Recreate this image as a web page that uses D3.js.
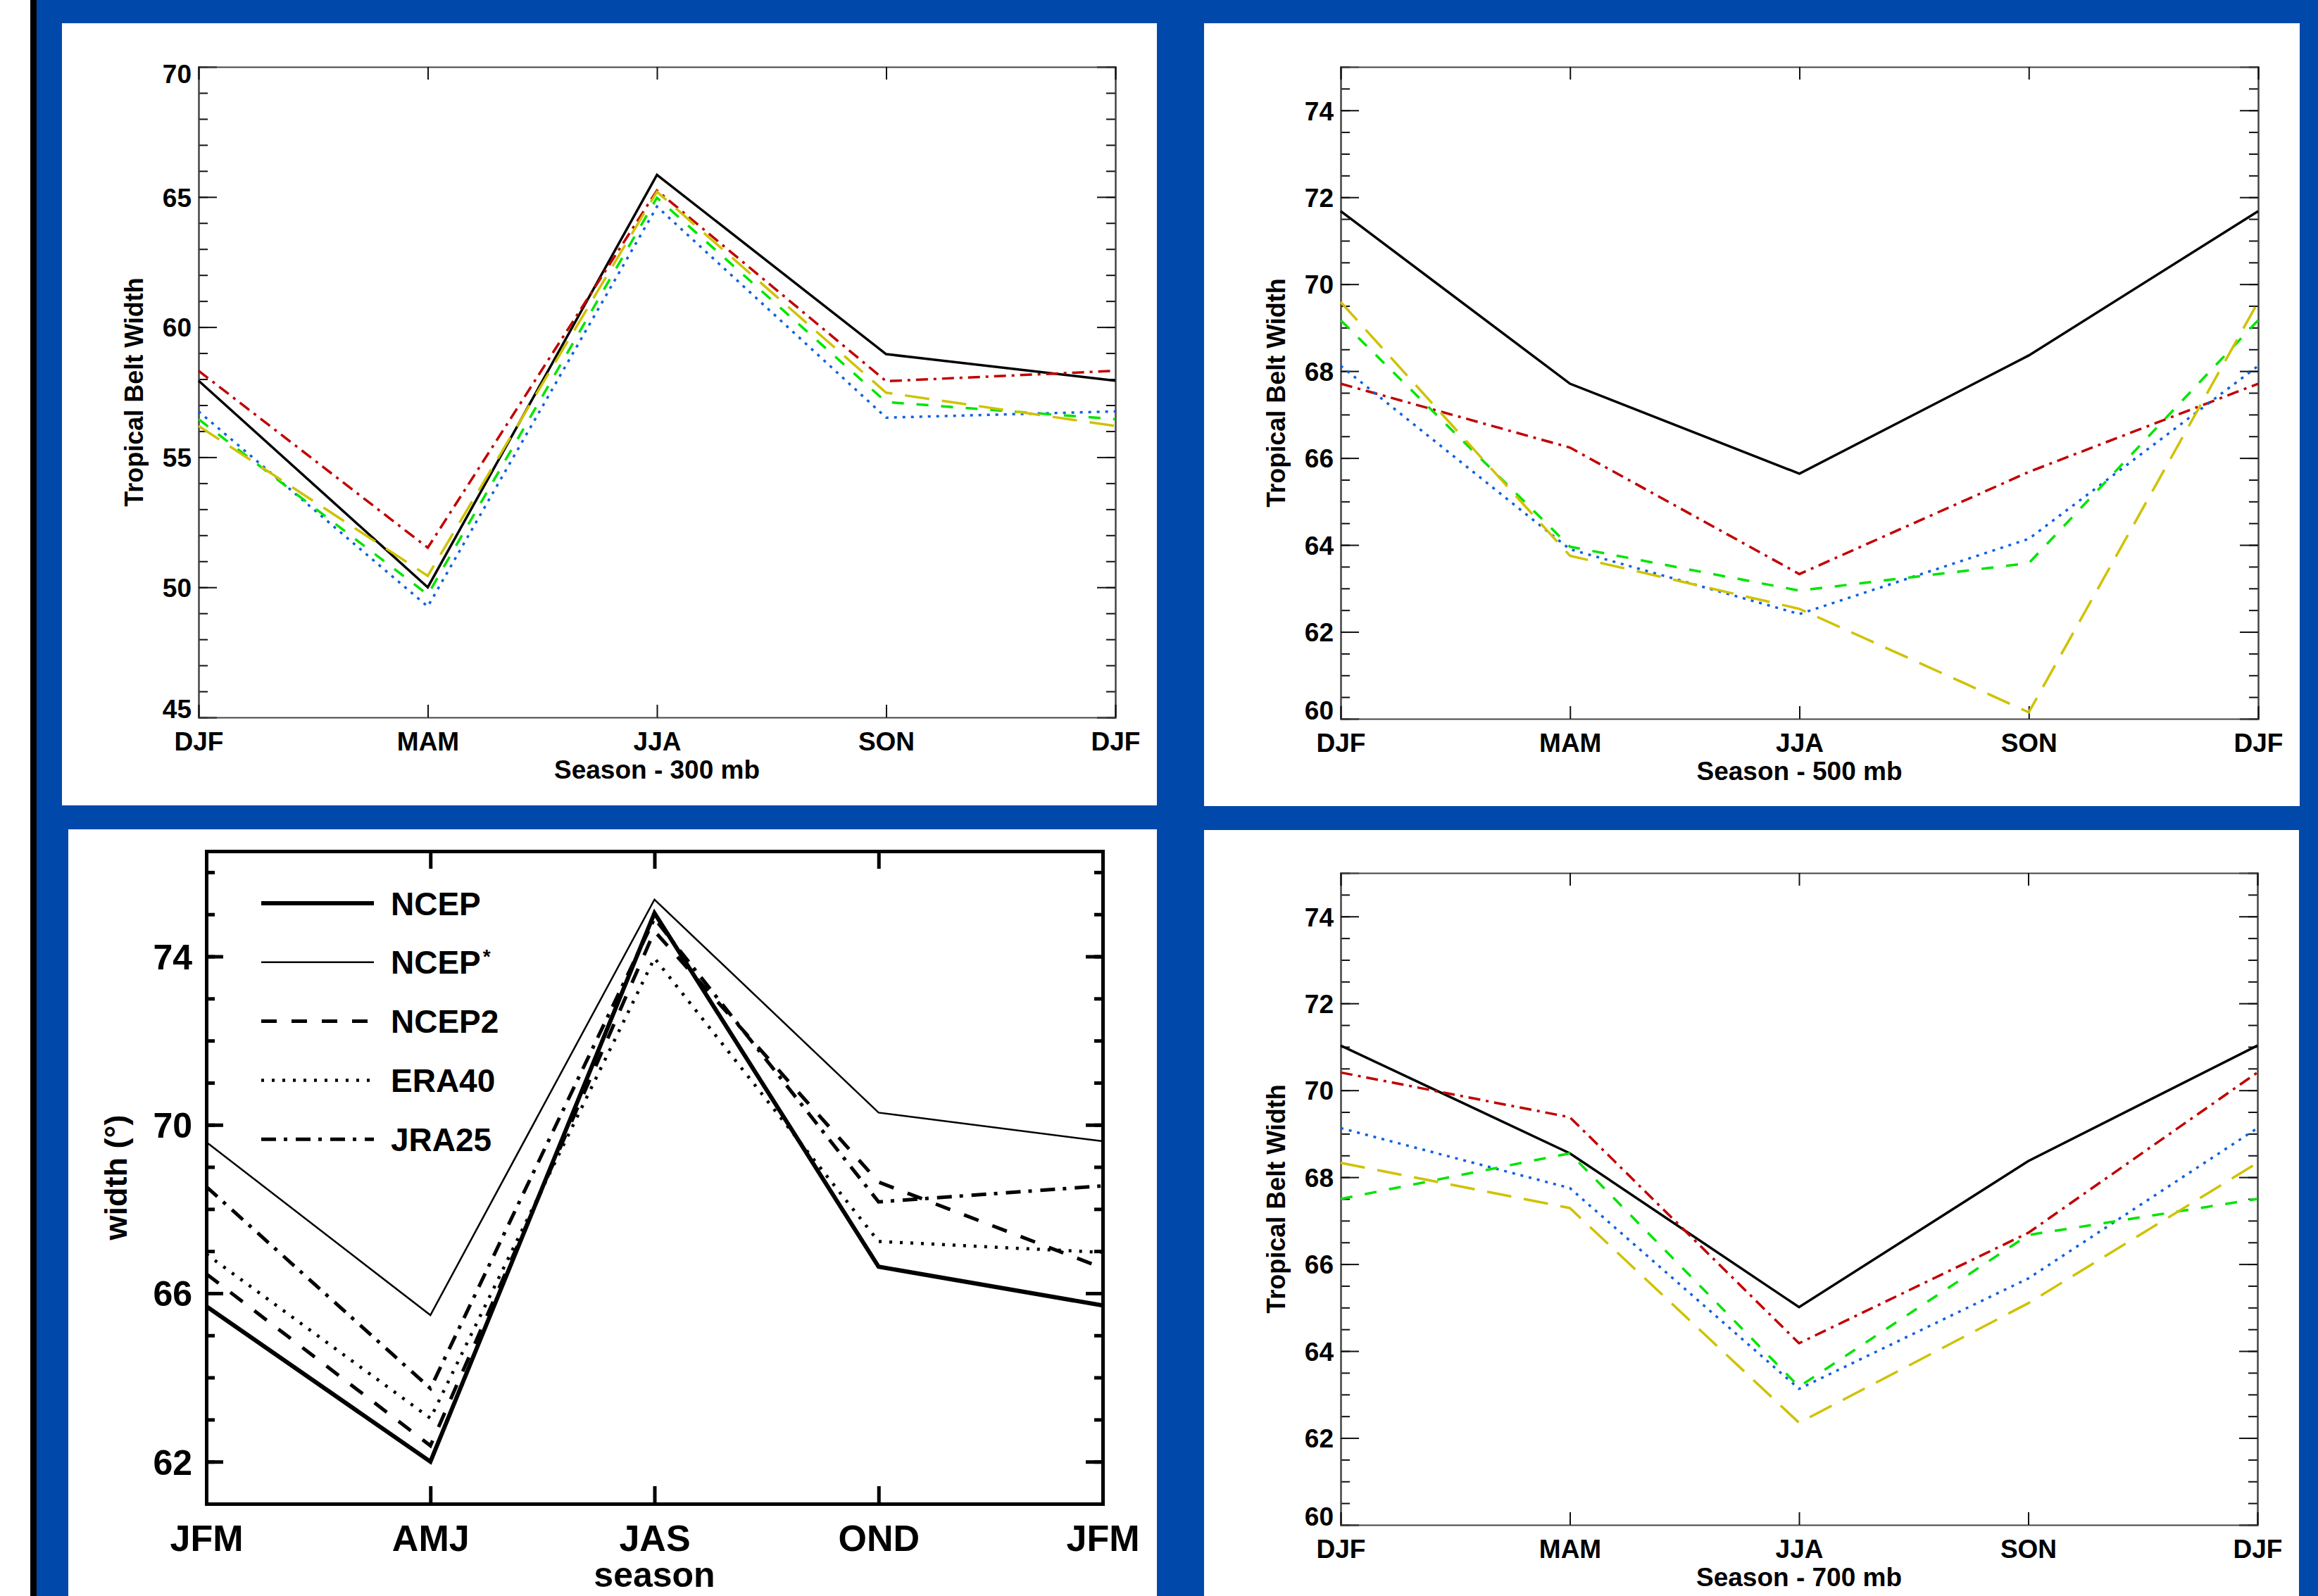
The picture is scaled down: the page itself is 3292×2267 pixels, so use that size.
<!DOCTYPE html>
<html>
<head>
<meta charset="utf-8">
<script src="https://cdn.jsdelivr.net/npm/d3@7"></script>
<style>
body { margin: 0; background: #fff; }
svg text { font-family: "Liberation Sans", Arial, Helvetica, sans-serif; font-weight: bold; fill: #000; }
</style>
</head>
<body>
<svg id="chart" width="3292" height="2267"></svg>
<script>
// season labels
var seasons = ["DJF", "MAM", "JJA", "SON", "DJF"];
var seasonsObs = ["JFM", "AMJ", "JAS", "OND", "JFM"];

// 300 mb
var black300 = [57.94, 50.0, 65.85, 58.96, 57.94];
var red300 = [58.32, 51.52, 65.25, 57.92, 58.32];
var blue300 = [56.76, 49.26, 64.63, 56.52, 56.76];
var green300 = [56.46, 49.72, 64.97, 57.12, 56.46];
var yellow300 = [56.2, 50.44, 65.2, 57.48, 56.2];

// 500 mb
var black500 = [71.68, 67.71, 65.64, 68.36, 71.68];
var red500 = [67.71, 66.24, 63.33, 65.68, 67.71];
var blue500 = [68.12, 63.9, 62.41, 64.14, 68.12];
var green500 = [69.17, 63.96, 62.95, 63.58, 69.17];
var yellow500 = [69.59, 63.75, 62.53, 60.15, 69.59];

// 700 mb
var black700 = [71.03, 68.55, 65.01, 68.37, 71.03];
var red700 = [70.41, 69.38, 64.18, 66.72, 70.41];
var blue700 = [69.13, 67.75, 63.13, 65.67, 69.13];
var green700 = [67.5, 68.55, 63.18, 66.67, 67.5];
var yellow700 = [68.33, 67.29, 62.35, 65.1, 68.33];

// reanalysis panel
var ncep = [65.69, 62.0, 75.03, 66.63, 65.71];
var ncepStar = [69.59, 65.48, 75.35, 70.29, 69.61];
var ncep2 = [66.46, 62.38, 74.6, 68.64, 66.6];
var era40 = [66.93, 63.03, 73.96, 67.23, 66.97];
var jra25 = [68.53, 63.74, 74.9, 68.17, 68.55];
var obsNames = ["NCEP", "NCEP", "NCEP2", "ERA40", "JRA25"];

// tick labels
var ticks300 = [45, 50, 55, 60, 65, 70];
var ticks500 = [60, 62, 64, 66, 68, 70, 72, 74];
var ticks700 = [60, 62, 64, 66, 68, 70, 72, 74];
var ticksObs = [62, 66, 70, 74];

// line styles for the coloured panels
var idlStyles = [
    { color: "#000000", dash: null },
    { color: "#c00000", dash: "17,8,4,8" },
    { color: "#1060e0", dash: "4,8" },
    { color: "#00e400", dash: "17,18" },
    { color: "#cfc200", dash: "35,18" }
];
// line styles for the black and white panel
var obsStyles = [
    { width: 6, dash: null },
    { width: 2.5, dash: null },
    { width: 5, dash: "22,21" },
    { width: 4.5, dash: "4,11" },
    { width: 5, dash: "21,11,5,12" }
];

var svg = d3.select("#chart");

// background: white strip, black bar, blue frame, white panels
svg.append("rect").attr("width", 3292).attr("height", 2267).attr("fill", "#fff");
svg.append("rect").attr("x", 43).attr("width", 9).attr("height", 2267).attr("fill", "#000");
svg.append("rect").attr("x", 52).attr("width", 3240).attr("height", 2267).attr("fill", "#0049aa");
var panels = [[88, 33, 1555, 1111], [1710, 33, 1556, 1112], [97, 1178, 1546, 1089], [1710, 1179, 1555, 1088]];
svg.selectAll("rect.panel")
    .data(panels)
    .enter().append("rect")
    .attr("class", "panel")
    .attr("x", function(d) { return d[0]; })
    .attr("y", function(d) { return d[1]; })
    .attr("width", function(d) { return d[2]; })
    .attr("height", function(d) { return d[3]; })
    .attr("fill", "#fff");

function drawIdl(left, top, w, h, ymin, ymax, majors, minorStep, title, series) {
    var g = svg.append("g").attr("transform", "translate(" + left + "," + top + ")");
    var x = d3.scaleLinear().domain([0, 4]).range([0, w]);
    var y = d3.scaleLinear().domain([ymin, ymax]).range([h, 0]);
    var minors = d3.range(ymin, ymax + 1e-6, minorStep);

    // minor ticks both sides
    g.append("g").call(d3.axisLeft(y).tickValues(minors).tickSize(-13).tickFormat(""));
    g.append("g").attr("transform", "translate(" + w + ",0)")
        .call(d3.axisRight(y).tickValues(minors).tickSize(-13).tickFormat(""));
    // major ticks with labels
    var yax = g.append("g").call(d3.axisLeft(y).tickValues(majors).tickSize(-26).tickPadding(10));
    g.append("g").attr("transform", "translate(" + w + ",0)")
        .call(d3.axisRight(y).tickValues(majors).tickSize(-26).tickFormat(""));
    g.append("g").call(d3.axisTop(x).ticks(5).tickSize(-18).tickFormat(""));
    var xax = g.append("g").attr("transform", "translate(0," + h + ")")
        .call(d3.axisBottom(x).ticks(5).tickSize(-18).tickFormat(function(d) { return seasons[d]; }));

    g.selectAll(".domain").attr("stroke", "#444").attr("stroke-width", 2);
    g.selectAll(".tick line").attr("stroke", "#111").attr("stroke-width", 2);
    yax.selectAll("text").attr("font-size", 37).attr("dy", "0.36em")
        .attr("transform", function(d) {
            if (d === ymin) return "translate(0,-13)";
            if (d === ymax) return "translate(0,9)";
            return null;
        });
    xax.selectAll("text").attr("font-size", 37).attr("y", 34).attr("dy", "0.36em");

    g.append("text")
        .attr("x", w / 2).attr("y", h + 74).attr("dy", "0.36em")
        .attr("text-anchor", "middle").attr("font-size", 37)
        .text(title);
    g.append("text")
        .attr("transform", "translate(-92," + (h / 2) + ") rotate(-90)")
        .attr("text-anchor", "middle").attr("dy", "0.36em").attr("font-size", 36)
        .text("Tropical Belt Width");

    var line = d3.line()
        .x(function(d, i) { return x(i); })
        .y(function(d) { return y(d); });
    series.forEach(function(s, i) {
        g.append("path")
            .datum(s)
            .attr("d", line)
            .attr("fill", "none")
            .attr("stroke", idlStyles[i].color)
            .attr("stroke-width", 3.5)
            .attr("stroke-dasharray", idlStyles[i].dash);
    });
}

function drawObs(left, top, w, h) {
    var g = svg.append("g").attr("transform", "translate(" + left + "," + top + ")");
    var x = d3.scaleLinear().domain([0, 4]).range([0, w]);
    var y = d3.scaleLinear().domain([61, 76.5]).range([h, 0]);
    var minors = d3.range(61, 76.6, 1);

    g.append("g").call(d3.axisLeft(y).tickValues(minors).tickSize(-12).tickFormat(""));
    g.append("g").attr("transform", "translate(" + w + ",0)")
        .call(d3.axisRight(y).tickValues(minors).tickSize(-12).tickFormat(""));
    var yax = g.append("g").call(d3.axisLeft(y).tickValues(ticksObs).tickSize(-24).tickPadding(20));
    g.append("g").attr("transform", "translate(" + w + ",0)")
        .call(d3.axisRight(y).tickValues(ticksObs).tickSize(-24).tickFormat(""));
    g.append("g").call(d3.axisTop(x).ticks(5).tickSize(-25).tickFormat(""));
    var xax = g.append("g").attr("transform", "translate(0," + h + ")")
        .call(d3.axisBottom(x).ticks(5).tickSize(-25).tickFormat(function(d) { return seasonsObs[d]; }));

    g.selectAll(".domain").attr("stroke", "#000").attr("stroke-width", 5);
    g.selectAll(".tick line").attr("stroke", "#000").attr("stroke-width", 5);
    yax.selectAll("text").attr("font-size", 50).attr("dy", "0.36em");
    xax.selectAll("text").attr("font-size", 52).attr("y", 48).attr("dy", "0.36em");

    g.append("text")
        .attr("x", w / 2).attr("y", h + 100).attr("dy", "0.36em")
        .attr("text-anchor", "middle").attr("font-size", 50)
        .text("season");
    g.append("text")
        .attr("transform", "translate(-129," + (h / 2) + ") rotate(-90)")
        .attr("text-anchor", "middle").attr("dy", "0.36em").attr("font-size", 45)
        .text("width (°)");

    var line = d3.line()
        .x(function(d, i) { return x(i); })
        .y(function(d) { return y(d); });
    [ncep, ncepStar, ncep2, era40, jra25].forEach(function(s, i) {
        g.append("path")
            .datum(s)
            .attr("d", line)
            .attr("fill", "none")
            .attr("stroke", "#000")
            .attr("stroke-width", obsStyles[i].width)
            .attr("stroke-dasharray", obsStyles[i].dash);
    });

    // legend
    var legend = g.selectAll("g.legend")
        .data(obsNames)
        .enter().append("g")
        .attr("class", "legend")
        .attr("transform", function(d, i) { return "translate(78," + (74 + i * 83.8) + ")"; });
    legend.append("line")
        .attr("x1", 0).attr("x2", 160)
        .attr("stroke", "#000")
        .attr("stroke-width", function(d, i) { return obsStyles[i].width; })
        .attr("stroke-dasharray", function(d, i) { return obsStyles[i].dash; });
    var lt = legend.append("text")
        .attr("x", 184).attr("dy", "0.36em").attr("font-size", 46)
        .text(function(d) { return d; });
    lt.filter(function(d, i) { return i === 1; })
        .append("tspan").attr("dx", 3).attr("dy", "-0.55em").attr("font-size", 28).text("*");
}

drawIdl(282, 95, 1302, 924, 45, 70, ticks300, 1, "Season - 300 mb",
    [black300, red300, blue300, green300, yellow300]);
drawIdl(1904, 95, 1303, 926, 60, 75, ticks500, 0.5, "Season - 500 mb",
    [black500, red500, blue500, green500, yellow500]);
drawIdl(1904, 1240, 1302, 926, 60, 75, ticks700, 0.5, "Season - 700 mb",
    [black700, red700, blue700, green700, yellow700]);
drawObs(293, 1209, 1273, 927);
</script>
</body>
</html>
